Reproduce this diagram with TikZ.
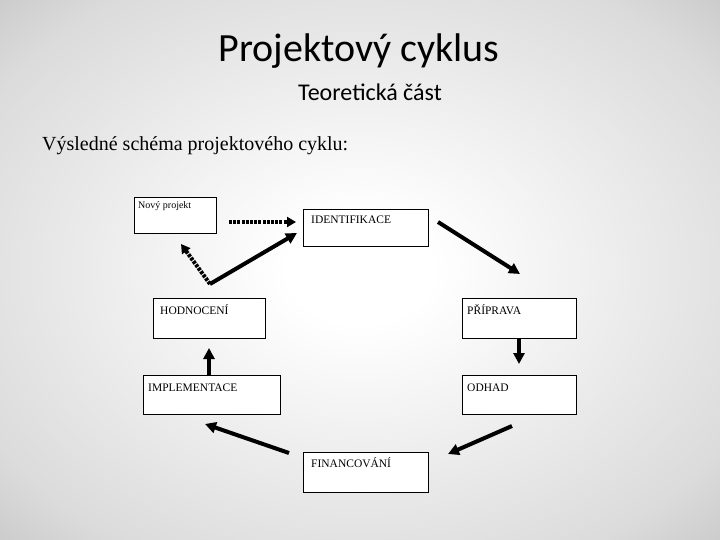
\documentclass[tikz,border=0pt]{standalone}
\usepackage{fontspec}
\setmainfont{Liberation Serif}
\newfontfamily\titlefont{Carlito}
\usetikzlibrary{arrows.meta}
\pgfdeclareradialshading{bgshade}{\pgfpoint{0bp}{0bp}}{color(0bp)=(white); color(5bp)=(white); color(30bp)=(black!14); color(50bp)=(black!36); color(71bp)=(black!52)}
\tikzset{
  box/.style={draw=black, line width=0.8pt, fill=white, anchor=north west, inner sep=0pt},
  lbl/.style={anchor=base west, inner sep=0pt, font=\fontsize{11.5}{13}\selectfont},
  conn/.style={line width=4pt, -{Triangle[length=11pt,width=11pt]}},
  dotconn/.style={line width=4pt, dash pattern=on 3pt off 1.2pt, -{Triangle[length=9pt,width=10pt]}}
}
\begin{document}
\begin{tikzpicture}[x=1pt,y=-1pt]
\useasboundingbox (0,0) rectangle (720,540);
\shade[shading=bgshade] (0,0) rectangle (720,540);
% titles
\node[anchor=base, inner sep=0pt, font=\titlefont\fontsize{40}{44}\selectfont] (title) at (359,62) {Projektový cyklus};
\node[anchor=base, inner sep=0pt, font=\titlefont\fontsize{24}{28}\selectfont] (subtitle) at (370,101) {Teoretická část};
\node[anchor=base west, inner sep=0pt, font=\fontsize{20}{24}\selectfont] (intro) at (42,151) {Výsledné schéma projektového cyklu:};
% boxes
\node[box, minimum width=82pt, minimum height=36pt] (novy) at (134,197) {};
\node[box, minimum width=125pt, minimum height=37pt] (ident) at (303,209) {};
\node[box, minimum width=112pt, minimum height=40pt] (hodn) at (153,298) {};
\node[box, minimum width=114pt, minimum height=40pt] (prip) at (462,298) {};
\node[box, minimum width=137pt, minimum height=39pt] (impl) at (143,375) {};
\node[box, minimum width=114pt, minimum height=39pt] (odhad) at (462,375) {};
\node[box, minimum width=125pt, minimum height=40pt] (fin) at (303,452) {};
% labels
\node[lbl, font=\fontsize{10}{11}\selectfont] (tnovy) at ([shift={(4,12)}]novy.north west) {Nový projekt};
\node[lbl] (tident) at ([shift={(8,15)}]ident.north west) {IDENTIFIKACE};
\node[lbl] (thodn) at ([shift={(7,16)}]hodn.north west) {HODNOCENÍ};
\node[lbl] (tprip) at ([shift={(5,16)}]prip.north west) {PŘÍPRAVA};
\node[lbl] (timpl) at ([shift={(5,16)}]impl.north west) {IMPLEMENTACE};
\node[lbl] (todhad) at ([shift={(5,16)}]odhad.north west) {ODHAD};
\node[lbl] (tfin) at ([shift={(8,15)}]fin.north west) {FINANCOVÁNÍ};
% connector end points
\coordinate (a1) at (229,222);
\coordinate (a2) at (296,222);
\coordinate (v) at (210,284);
\coordinate (v1) at (181,244);
\coordinate (v2) at (297,233);
\coordinate (b1) at (438,222);
\coordinate (b2) at (520,274);
\coordinate (c1) at (519,338);
\coordinate (c2) at (519,364);
\coordinate (d1) at (512,426);
\coordinate (d2) at (448,454);
\coordinate (e1) at (289,453);
\coordinate (e2) at (205,424);
\coordinate (f1) at (209,376);
\coordinate (f2) at (209,348);
% connectors
\draw[dotconn] (a1) -- (a2);
\draw[dotconn] (v) -- (v1);
\draw[conn] (v) -- (v2);
\draw[conn] (b1) -- (b2);
\draw[conn] (c1) -- (c2);
\draw[conn] (d1) -- (d2);
\draw[conn] (e1) -- (e2);
\draw[conn] (f1) -- (f2);
\end{tikzpicture}
\end{document}
